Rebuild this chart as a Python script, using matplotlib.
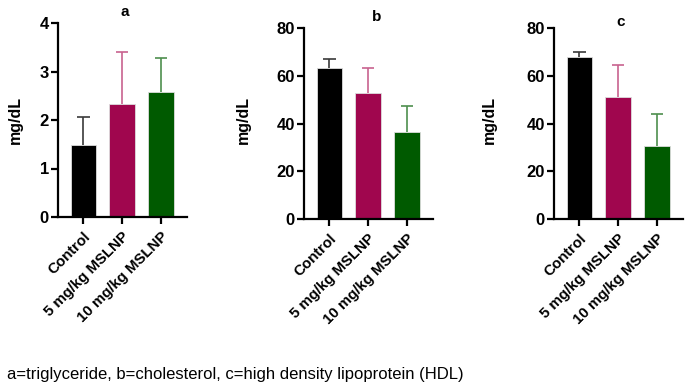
import matplotlib
matplotlib.use("Agg")
import matplotlib.pyplot as plt
import numpy as np

plt.rcParams['font.family'] = ['Liberation Sans', 'DejaVu Sans']

groups = ["Control", "5 mg/kg MSLNP", "10 mg/kg MSLNP"]
tri_mean = [1.49, 2.33, 2.57]
tri_err = [0.58, 1.08, 0.70]
chol_mean = [63.2, 52.9, 36.4]
chol_err = [3.9, 10.5, 11.1]
hdl_mean = [67.8, 51.1, 30.6]
hdl_err = [2.1, 13.4, 13.5]

panel_titles = ["a", "b", "c"]
yticks_list = [[0, 1, 2, 3, 4], [0, 20, 40, 60, 80], [0, 20, 40, 60, 80]]
ylims = [(0, 4), (0, 80), (0, 80)]
caption = "a=triglyceride, b=cholesterol, c=high density lipoprotein (HDL)"

bar_colors = ["#000000", "#A0064E", "#005A00"]
err_colors = ["#3A3A3A", "#C8628F", "#4E8F4E"]

W, H = 689, 388
fig = plt.figure(figsize=(W / 100, H / 100), dpi=100)

# axes pixel boxes: (left, right, top, bottom)
boxes = [(58, 187, 23, 217), (304, 433, 28, 219), (554, 683, 28, 219)]
title_y = [12, 17, 22]
ylabel_x = [15, 243, 489]

datasets = [(tri_mean, tri_err), (chol_mean, chol_err), (hdl_mean, hdl_err)]

for i, ((l, r, t, b), (m, e)) in enumerate(zip(boxes, datasets)):
    ax = fig.add_axes([l / W, 1 - b / H, (r - l) / W, (b - t) / H])
    x = np.arange(len(groups))
    ax.bar(x, m, width=0.67, color=bar_colors, edgecolor="#dddddd", linewidth=0.6, zorder=2)
    tops = np.array(m) + np.array(e)
    ax.vlines(x, m, tops, colors=err_colors, linewidth=1.2, zorder=1)
    ax.errorbar(x, tops, xerr=0.16, fmt="none", ecolor=err_colors, elinewidth=1.2,
                capsize=0, zorder=1)
    ax.set_xlim(-0.66, 2.68)
    ax.set_ylim(*ylims[i])
    ax.set_yticks(yticks_list[i])
    ax.set_xticks(x)
    ax.set_xticklabels(groups, rotation=45, ha="right", rotation_mode="anchor",
                       fontsize=10.8, fontweight="bold")
    for lab in ax.get_yticklabels():
        lab.set_fontweight("bold")
        lab.set_fontsize(12)
    for s in ["top", "right"]:
        ax.spines[s].set_visible(False)
    for s in ["left", "bottom"]:
        ax.spines[s].set_linewidth(1.6)
    ax.tick_params(axis="both", width=1.6, length=5, direction="out", pad=1.5)
    ax.tick_params(axis="x", pad=4)
    fig.text(((l + r) / 2 + [2, 8, 2][i]) / W, 1 - title_y[i] / H, panel_titles[i],
             ha="center", va="center", fontsize=11, fontweight="bold")
    fig.text(ylabel_x[i] / W, 1 - 120 / H, "mg/dL", rotation=90, ha="center",
             va="center", fontsize=11.5, fontweight="bold")

fig.text(7 / W, 1 - 375 / H, caption, ha="left", va="center", fontsize=12)

fig.savefig("out.png", dpi=100)
